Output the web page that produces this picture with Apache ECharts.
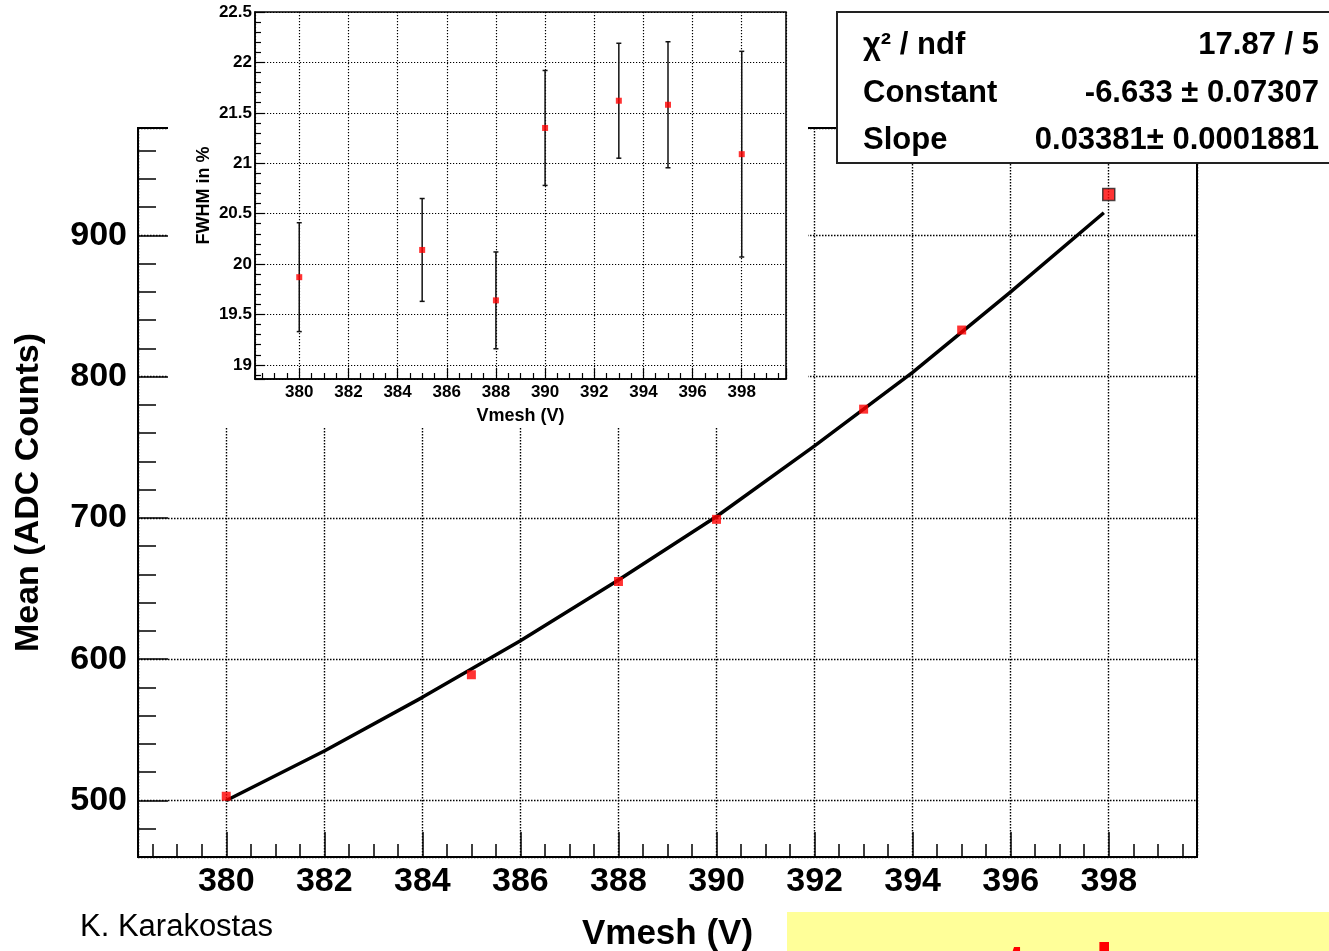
<!DOCTYPE html>
<html>
<head>
<meta charset="utf-8">
<script src="https://cdn.jsdelivr.net/npm/echarts@6/dist/echarts.min.js"></script>
<style>
  html, body { margin: 0; padding: 0; background: #fff; }
  #chart { width: 1329px; height: 951px; }
</style>
</head>
<body>
<div id="chart"></div>
<script>
// ---- data ----
const voltages = [380, 385, 388, 390, 393, 395, 398];
const meanADC = [503, 589, 655, 699, 777, 833, 929];
const fitVoltages = [380, 382, 384, 386, 388, 390, 392, 394, 396, 397.9];
const fitMean = [500, 535, 573, 613, 656, 701, 751, 803, 860, 916];
const fwhm = [19.87, 20.14, 19.64, 21.35, 21.62, 21.58, 21.09];
const fwhmErr = [0.54, 0.51, 0.48, 0.57, 0.57, 0.625, 1.02];
const statNames = ['\u03c7\u00b2 / ndf', 'Constant', 'Slope'];
const statValues = ['17.87 / 5', '-6.633 \u00b1 0.07307', '0.03381\u00b1 0.0001881'];
const authorText = 'K. Karakostas';

const FONT = "'Liberation Sans', Arial, Helvetica, sans-serif";
const dotted = { type: [1.5, 1.5], color: '#000', width: 1.4 };

const chart = echarts.init(document.getElementById('chart'), null, { renderer: 'canvas' });

function valueAxis(opts) {
  return Object.assign({
    type: 'value',
    axisLine: { show: true, onZero: false, lineStyle: { color: '#000', width: 2 } },
    splitLine: { show: true, lineStyle: dotted },
    axisLabel: { color: '#000', fontFamily: FONT, fontWeight: 'bold', showMinLabel: false, showMaxLabel: false },
  }, opts);
}

const option = {
  backgroundColor: '#fff',
  animation: false,
  grid: [
    { left: 138, right: 132, top: 128, bottom: 94, containLabel: false, outerBoundsMode: 'none', show: true, borderColor: '#000', borderWidth: 2, backgroundColor: 'transparent', z: 0 },
    { left: 255, right: 543, top: 12, bottom: 572, containLabel: false, outerBoundsMode: 'none', show: true, borderColor: '#000', borderWidth: 1.5, backgroundColor: '#fff', z: 6 }
  ],
  xAxis: [
    valueAxis({
      gridIndex: 0, min: 378.2, max: 399.8, splitNumber: 10, minInterval: 2, maxInterval: 2,
      axisTick: { show: true, inside: true, length: 25, lineStyle: { color: '#000', width: 1.5 } },
      minorTick: { show: true, splitNumber: 4, length: 13, lineStyle: { color: '#000', width: 1.5 } },
      axisLabel: { color: '#000', fontFamily: FONT, fontWeight: 'bold', fontSize: 34, margin: 8, showMinLabel: false, showMaxLabel: false },
      name: 'Vmesh (V)', nameLocation: 'middle', nameGap: 60,
      nameTextStyle: { color: '#000', fontFamily: FONT, fontWeight: 'bold', fontSize: 35 }
    }),
    valueAxis({
      gridIndex: 1, min: 378.2, max: 399.8, splitNumber: 10, minInterval: 2, maxInterval: 2, z: 7,
      axisLine: { show: true, onZero: false, lineStyle: { color: '#000', width: 1.5 } },
      axisTick: { show: true, inside: true, length: 11, lineStyle: { color: '#000', width: 1.2 } },
      minorTick: { show: true, splitNumber: 4, length: 6, lineStyle: { color: '#000', width: 1.2 } },
      axisLabel: { color: '#000', fontFamily: FONT, fontWeight: 'bold', fontSize: 17, margin: 5, showMinLabel: false, showMaxLabel: false },
      splitLine: { show: true, lineStyle: { type: [1.2, 1.8], color: '#000', width: 1.2 } },
      name: 'Vmesh (V)', nameLocation: 'middle', nameGap: 28,
      nameTextStyle: { color: '#000', fontFamily: FONT, fontWeight: 'bold', fontSize: 18 }
    })
  ],
  yAxis: [
    valueAxis({
      gridIndex: 0, min: 460, max: 976, splitNumber: 5, minInterval: 100, maxInterval: 100,
      axisTick: { show: true, inside: true, length: 30, lineStyle: { color: '#000', width: 1.5 } },
      minorTick: { show: true, splitNumber: 5, length: 18, lineStyle: { color: '#000', width: 1.5 } },
      axisLabel: { color: '#000', fontFamily: FONT, fontWeight: 'bold', fontSize: 34, margin: 11, padding: [5, 0, 0, 0], showMinLabel: false, showMaxLabel: false },
      name: 'Mean (ADC Counts)', nameLocation: 'middle', nameGap: 92,
      nameTextStyle: { color: '#000', fontFamily: FONT, fontWeight: 'bold', fontSize: 34 }
    }),
    valueAxis({
      gridIndex: 1, min: 18.86, max: 22.5, splitNumber: 7, minInterval: 0.5, maxInterval: 0.5, z: 7,
      axisLine: { show: true, onZero: false, lineStyle: { color: '#000', width: 1.5 } },
      axisTick: { show: true, inside: true, length: 10, lineStyle: { color: '#000', width: 1.2 } },
      minorTick: { show: true, splitNumber: 5, length: 6, lineStyle: { color: '#000', width: 1.2 } },
      axisLabel: { color: '#000', fontFamily: FONT, fontWeight: 'bold', fontSize: 17, margin: 3, padding: [3, 0, 0, 0], showMinLabel: false, showMaxLabel: true },
      splitLine: { show: true, lineStyle: { type: [1.2, 1.8], color: '#000', width: 1.2 } },
      name: 'FWHM in %', nameLocation: 'middle', nameGap: 42,
      nameTextStyle: { color: '#000', fontFamily: FONT, fontWeight: 'bold', fontSize: 18 }
    })
  ],
  graphic: [
    { type: 'rect', z: 5, silent: true, shape: { x: 168, y: 0, width: 640, height: 427 }, style: { fill: '#fff' } },
    { type: 'rect', z: 20, silent: true, shape: { x: 837, y: 12, width: 520, height: 151 }, style: { fill: '#fff', stroke: '#222', lineWidth: 2 } },
    { type: 'text', z: 21, x: 863, y: 45, style: { text: statNames[0], font: "bold 31px 'Liberation Sans', Arial, sans-serif", fill: '#000', verticalAlign: 'middle', align: 'left' } },
    { type: 'text', z: 21, x: 863, y: 93, style: { text: statNames[1], font: "bold 31px 'Liberation Sans', Arial, sans-serif", fill: '#000', verticalAlign: 'middle', align: 'left' } },
    { type: 'text', z: 21, x: 863, y: 140, style: { text: statNames[2], font: "bold 31px 'Liberation Sans', Arial, sans-serif", fill: '#000', verticalAlign: 'middle', align: 'left' } },
    { type: 'text', z: 21, x: 1319, y: 45, style: { text: statValues[0], font: "bold 31px 'Liberation Sans', Arial, sans-serif", fill: '#000', verticalAlign: 'middle', align: 'right' } },
    { type: 'text', z: 21, x: 1319, y: 93, style: { text: statValues[1], font: "bold 31px 'Liberation Sans', Arial, sans-serif", fill: '#000', verticalAlign: 'middle', align: 'right' } },
    { type: 'text', z: 21, x: 1319, y: 140, style: { text: statValues[2], font: "bold 31px 'Liberation Sans', Arial, sans-serif", fill: '#000', verticalAlign: 'middle', align: 'right' } },
    { type: 'text', z: 21, x: 80, y: 927, style: { text: authorText, font: "31px 'Liberation Sans', Arial, sans-serif", fill: '#000', verticalAlign: 'middle', align: 'left' } },
    { type: 'rect', z: 20, silent: true, shape: { x: 787, y: 912, width: 560, height: 60 }, style: { fill: '#ffff99' } },
    { type: 'text', z: 21, x: 1005, y: 974, style: { text: 'tral', font: "bold 70px 'Liberation Sans', Arial, sans-serif", fill: '#ff0000', verticalAlign: 'middle', align: 'left' } }
  ],
  series: [
    {
      type: 'line', xAxisIndex: 0, yAxisIndex: 0, z: 2,
      data: fitVoltages.map((v, i) => [v, fitMean[i]]),
      showSymbol: false, smooth: false,
      lineStyle: { color: '#000', width: 3.5 }
    },
    {
      type: 'scatter', xAxisIndex: 0, yAxisIndex: 0, z: 3,
      data: voltages.map((v, i) => ({
        value: [v, meanADC[i]],
        symbolSize: i === voltages.length - 1 ? 12 : 9,
        itemStyle: i === voltages.length - 1 ? { color: '#ff0000', borderColor: '#222', borderWidth: 1.5 } : { color: '#ff0000' }
      })),
      symbol: 'rect'
    },
    {
      type: 'custom', xAxisIndex: 1, yAxisIndex: 1, z: 8,
      data: voltages.map((v, i) => [v, fwhm[i] - fwhmErr[i], fwhm[i] + fwhmErr[i]]),
      encode: { x: 0, y: [1, 2] },
      renderItem: function (params, api) {
        const lo = api.coord([api.value(0), api.value(1)]);
        const hi = api.coord([api.value(0), api.value(2)]);
        const cap = 2.5;
        const style = { stroke: '#111', lineWidth: 1.5 };
        return {
          type: 'group',
          children: [
            { type: 'line', shape: { x1: lo[0], y1: lo[1], x2: hi[0], y2: hi[1] }, style: style },
            { type: 'line', shape: { x1: lo[0] - cap, y1: lo[1], x2: lo[0] + cap, y2: lo[1] }, style: style },
            { type: 'line', shape: { x1: hi[0] - cap, y1: hi[1], x2: hi[0] + cap, y2: hi[1] }, style: style }
          ]
        };
      }
    },
    {
      type: 'scatter', xAxisIndex: 1, yAxisIndex: 1, z: 9,
      data: voltages.map((v, i) => [v, fwhm[i]]),
      symbol: 'rect', symbolSize: 6,
      itemStyle: { color: '#ff0000' }
    }
  ]
};

chart.setOption(option);
</script>
</body>
</html>
